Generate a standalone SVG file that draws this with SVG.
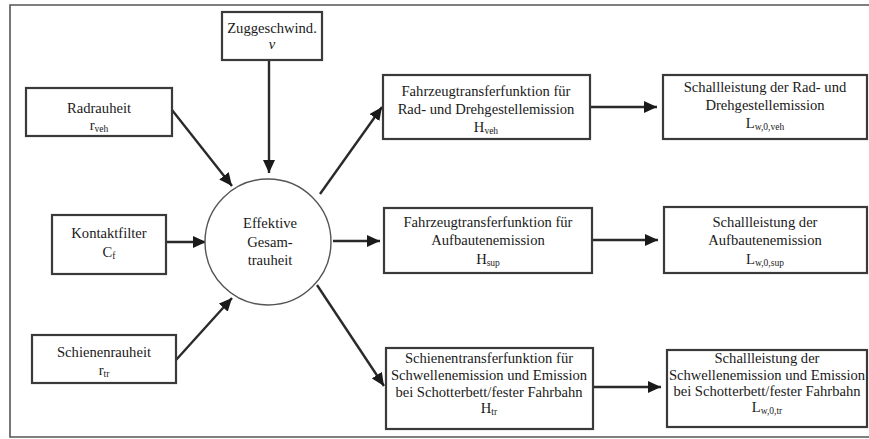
<svg xmlns="http://www.w3.org/2000/svg" width="869" height="439" viewBox="0 0 869 439">
<defs>
<style>
.box{fill:#fff;stroke:#3a3a3a;stroke-width:2.2}
.circ{fill:#fff;stroke:#555;stroke-width:1.4}
.frame{fill:none;stroke:#555;stroke-width:1.6}
text{font-family:'Liberation Serif','DejaVu Serif',serif;font-size:14.6px;fill:#1a1a1a;text-anchor:middle}
.sub{font-size:9.5px}
.con{stroke:#2a2a2a;stroke-width:2.4;fill:none;marker-end:url(#ah)}
</style>
<marker id="ah" markerUnits="userSpaceOnUse" markerWidth="14" markerHeight="12" refX="13" refY="6" orient="auto">
<path d="M0,0 L13,6 L0,12 Z" fill="#1a1a1a"/>
</marker>
</defs>
<rect width="869" height="439" fill="#fff"/>
<path class="frame" d="M870,5 H10 V437 H870"/>
<g id="connectors">
<line class="con" x1="172" y1="110" x2="232" y2="186"/>
<line class="con" x1="269" y1="60" x2="269" y2="173"/>
<line class="con" x1="166" y1="242" x2="206" y2="242"/>
<line class="con" x1="176" y1="360" x2="232" y2="298"/>
<line class="con" x1="320" y1="194" x2="382" y2="107"/>
<line class="con" x1="333" y1="241" x2="380" y2="241"/>
<line class="con" x1="317" y1="285" x2="384" y2="386"/>
<line class="con" x1="590" y1="107" x2="657" y2="107"/>
<line class="con" x1="592" y1="240" x2="658" y2="240"/>
<line class="con" x1="593" y1="387" x2="661" y2="387"/>
</g>
<g id="zug">
<rect class="box" x="222" y="12" width="100" height="48"/>
<text x="272" y="33">Zuggeschwind.</text>
<text x="272" y="49" font-style="italic">v</text>
</g>
<g id="rad">
<rect class="box" x="26" y="88" width="146" height="48"/>
<text x="99" y="113">Radrauheit</text>
<text x="99" y="130">r<tspan class="sub" dy="2">veh</tspan></text>
</g>
<g id="kontakt">
<rect class="box" x="52" y="215" width="114" height="59"/>
<text x="109" y="238">Kontaktfilter</text>
<text x="109" y="257">C<tspan class="sub" dy="2">f</tspan></text>
</g>
<g id="schiene">
<rect class="box" x="32" y="335" width="144" height="48"/>
<text x="104" y="357">Schienenrauheit</text>
<text x="104" y="375">r<tspan class="sub" dy="2">tr</tspan></text>
</g>
<g id="gesamt">
<circle class="circ" cx="268" cy="242" r="63"/>
<text x="270" y="228">Effektive</text>
<text x="270" y="247">Gesam-</text>
<text x="270" y="265">trauheit</text>
</g>
<g id="hveh">
<rect class="box" x="383" y="75" width="207" height="64"/>
<text x="486" y="96">Fahrzeugtransferfunktion für</text>
<text x="486" y="114">Rad- und Drehgestellemission</text>
<text x="486" y="132">H<tspan class="sub" dy="2">veh</tspan></text>
</g>
<g id="hsup">
<rect class="box" x="384" y="208" width="208" height="65"/>
<text x="488" y="227">Fahrzeugtransferfunktion für</text>
<text x="488" y="245">Aufbautenemission</text>
<text x="488" y="264">H<tspan class="sub" dy="2">sup</tspan></text>
</g>
<g id="htr">
<rect class="box" x="386" y="348" width="207" height="81"/>
<text x="489" y="363">Schienentransferfunktion für</text>
<text x="489" y="380">Schwellenemission und Emission</text>
<text x="489" y="397">bei Schotterbett/fester Fahrbahn</text>
<text x="489" y="413">H<tspan class="sub" dy="2">tr</tspan></text>
</g>
<g id="lveh">
<rect class="box" x="663" y="75" width="204" height="64"/>
<text x="765" y="92">Schallleistung der Rad- und</text>
<text x="765" y="110">Drehgestellemission</text>
<text x="765" y="128">L<tspan class="sub" dy="2">w,0,veh</tspan></text>
</g>
<g id="lsup">
<rect class="box" x="664" y="207" width="203" height="66"/>
<text x="765" y="227">Schallleistung der</text>
<text x="765" y="245">Aufbautenemission</text>
<text x="765" y="264">L<tspan class="sub" dy="2">w,0,sup</tspan></text>
</g>
<g id="ltr">
<rect class="box" x="667" y="350" width="200" height="77"/>
<text x="767" y="363">Schallleistung der</text>
<text x="767" y="380">Schwellenemission und Emission</text>
<text x="767" y="396">bei Schotterbett/fester Fahrbahn</text>
<text x="767" y="412">L<tspan class="sub" dy="2">w,0,tr</tspan></text>
</g>
</svg>
